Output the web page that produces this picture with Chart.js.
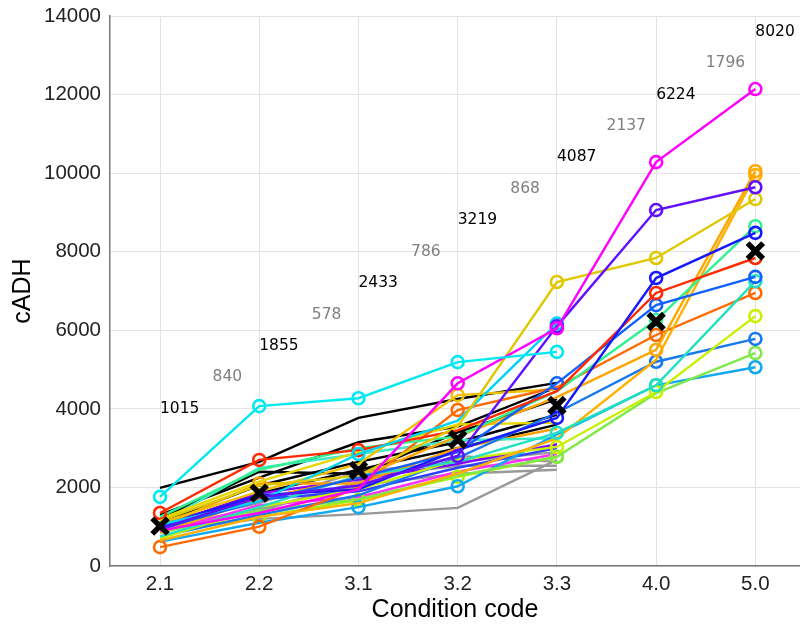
<!DOCTYPE html>
<html>
<head>
<meta charset="utf-8">
<script src="https://cdn.jsdelivr.net/npm/chart.js@4.4.1/dist/chart.umd.min.js"></script>
<style>
html,body{margin:0;padding:0;background:#fff;}
#wrap{width:800px;height:624px;position:relative;}
</style>
</head>
<body>
<div id="wrap"><canvas id="c" width="800" height="624"></canvas></div>
<script>
// ---- data ----
const categories = ['2.1','2.2','3.1','3.2','3.3','4.0','5.0'];
const yTicks = [0,2000,4000,6000,8000,10000,12000,14000];
const meanValues = [1015,1855,2433,3219,4087,6224,8020];
const spreadValues = [840,578,786,868,2137,1796];
const meanLabelY = [4000,5600,7200,8800,10400,12000,13600];
const spreadLabelY = [4800,6400,8000,9600,11200,12800];

const sCyan      = [1760,4070,4270,5190,5450,null,null];
const sMagenta   = [900,1350,1950,4650,6050,10280,12140];
const sPurple    = [950,1750,2050,2800,6100,9060,9640];
const sGold      = [1150,2050,2300,3550,7230,7840,9340];
const sSky       = [1050,1650,2850,3700,6170,null,null];
const sBlue      = [1000,1800,1950,2950,3770,7330,8480];
const sRed       = [1350,2700,2950,3450,4450,6950,7840];
const sRoyal     = [950,1650,2250,2900,4650,6640,7360];
const sSpring    = [1250,2450,3000,3300,4450,6260,8650];
const sTurq      = [750,1500,2300,2650,3390,4600,7250];
const sOrange    = [850,1700,2250,3300,4300,5500,10050];
const sOrange2   = [650,1250,1600,2350,3250,5250,9950];
const sDarkOr    = [480,1000,2000,3970,4550,5880,6950];
const sYGreen    = [700,1500,1950,2700,3030,4430,6360];
const sAzure     = [750,1300,1800,2750,3900,5200,5780];
const sLGreen    = [850,1400,1700,2300,2780,4400,5420];
const sDeepSky   = [620,1100,1500,2030,3350,4600,5060];
const sGold2     = [1100,1900,2600,4350,4500,null,null];
const sLime      = [900,1250,1680,2270,2780,null,null];
const sYellow    = [1200,2150,2900,3600,3650,null,null];
const sTeal      = [1100,2500,2850,3200,3250,null,null];
const sOrange4   = [1000,2100,2100,3000,3500,null,null];
const sViolet    = [1000,1850,2200,2600,3100,null,null];
const sBlue2     = [900,1700,1900,2500,3000,null,null];
const sPink      = [850,1550,1750,2400,2850,null,null];
const sBlack1    = [1990,2650,3770,4250,4660,null,null];
const sBlack2    = [1300,2250,3150,3550,4550,null,null];
const sBlack3    = [1200,2400,2350,3400,4250,null,null];
const sBlack4    = [1100,2050,2650,3150,3850,null,null];
const sBlack5    = [1000,1850,2450,3000,3600,null,null];
const sGray1     = [900,1200,1320,1480,2700,null,null];
const sGray2     = [1000,1450,2050,2350,2450,null,null];
const sGray3     = [1100,1700,2250,2550,2550,null,null];
const sGray4     = [1050,1600,2400,2650,2900,null,null];
const sGray5     = [950,1400,2150,2800,2650,null,null];

// ---- styles (kept apart from data) ----
const seriesList = [
  [sCyan,'#00e8f0',[0,1,2,3,4]],
  [sMagenta,'#ff00ff',[3,4,5,6]],
  [sPurple,'#6010ff',[3,4,5,6]],
  [sGold,'#e0c800',[4,5,6]],
  [sSky,'#00d4f4',[2,4]],
  [sBlue,'#1818ff',[4,5,6]],
  [sRed,'#ff2a00',[0,1,2,5,6]],
  [sRoyal,'#1060ff',[4,5,6]],
  [sSpring,'#30f090',[5,6]],
  [sTurq,'#20e0c0',[4,5,6]],
  [sOrange,'#ffa500',[5,6]],
  [sOrange2,'#ffb000',[6]],
  [sDarkOr,'#ff6a00',[0,1,3,5,6]],
  [sYGreen,'#c8f000',[4,5,6]],
  [sAzure,'#1878f0',[5,6]],
  [sLGreen,'#80e848',[4,6]],
  [sDeepSky,'#10a8f0',[2,3,5,6]],
  [sGold2,'#f0c000',[3]],
  [sLime,'#a8f000',[1,2,3,4]],
  [sYellow,'#e8d800',[]],
  [sTeal,'#40e8c8',[]],
  [sOrange4,'#ffa000',[1]],
  [sViolet,'#8000ff',[]],
  [sBlue2,'#3040ff',[]],
  [sPink,'#ff30ff',[]],
  [sBlack1,'#000000',[]],
  [sBlack2,'#000000',[]],
  [sBlack3,'#000000',[]],
  [sBlack4,'#000000',[]],
  [sBlack5,'#000000',[]],
  [sGray1,'#999999',[]],
  [sGray2,'#999999',[]],
  [sGray3,'#999999',[]],
  [sGray4,'#999999',[]],
  [sGray5,'#999999',[]]
];

const toXY = arr => arr.map((v,i)=>({x:i,y:v}));

const datasets = [{
  label:'mean',
  data: toXY(meanValues),
  showLine:false,
  pointStyle:'crossRot',
  pointRadius:11,
  pointBorderWidth:5.5,
  borderColor:'#000',
  backgroundColor:'#000',
  pointBorderColor:'#000'
}];
seriesList.forEach(([vals,color,marks],k)=>{
  datasets.push({
    label:'s'+k,
    data: toXY(vals),
    borderColor:color,
    backgroundColor:'rgba(0,0,0,0)',
    borderWidth:2.4,
    spanGaps:false,
    pointStyle:'circle',
    pointRadius: ctx => marks.includes(ctx.dataIndex) ? 6 : 0,
    pointBorderWidth:2.6,
    pointBorderColor:color,
    pointBackgroundColor:'rgba(255,255,255,0)',
    tension:0
  });
});

const textPlugin = {
  id:'annot',
  afterDatasetsDraw(chart){
    const {ctx, scales:{x,y}} = chart;
    ctx.save();
    ctx.font = '15.5px "DejaVu Sans"';
    ctx.textBaseline = 'middle';
    ctx.textAlign = 'left';
    ctx.fillStyle = '#000';
    meanValues.forEach((m,i)=>{
      ctx.fillText(String(m), x.getPixelForValue(i), y.getPixelForValue(meanLabelY[i]));
    });
    ctx.fillStyle = '#808080';
    spreadValues.forEach((s,i)=>{
      ctx.fillText(String(s), x.getPixelForValue(i+0.5)+ (s>=1000?0:3), y.getPixelForValue(spreadLabelY[i]));
    });
    ctx.restore();
  }
};

new Chart(document.getElementById('c'), {
  type:'line',
  data:{datasets},
  options:{
    responsive:false,
    animation:false,
    events:[],
    layout:{autoPadding:false, padding:{top:16,right:0,left:0,bottom:0}},
    plugins:{legend:{display:false},tooltip:{enabled:false}},
    scales:{
      x:{
        type:'linear',
        min:-0.504, max:6.45,
        afterBuildTicks: s => { s.ticks = categories.map((c,i)=>({value:i})); },
        afterFit: s => { s.height = 58; s.paddingLeft = 0; s.paddingRight = 0; },
        ticks:{
          callback: v => categories[v],
          font:{family:'"Liberation Sans", Arial', size:20.5},
          color:'#222',
          padding:6,
          maxRotation:0
        },
        grid:{color:'#e3e3e3', drawTicks:false, lineWidth:1},
        border:{color:'#7a7a7a', width:1.5},
        title:{display:true,text:'Condition code',font:{family:'"Liberation Sans", Arial',size:25},color:'#000',padding:{top:0,bottom:-1}}
      },
      y:{
        type:'linear',
        min:0, max:14000,
        afterBuildTicks: s => { s.ticks = yTicks.map(v=>({value:v})); },
        afterFit: s => { s.width = 110; s.paddingTop = 0; s.paddingBottom = 0; },
        ticks:{
          callback: v => String(v),
          font:{family:'"Liberation Sans", Arial', size:20.5},
          color:'#222',
          padding:9
        },
        grid:{color:'#e3e3e3', drawTicks:false, lineWidth:1},
        border:{color:'#7a7a7a', width:1.5},
        title:{display:true,text:'cADH',font:{family:'"Liberation Sans", Arial',size:25},color:'#000',padding:{top:8,bottom:0}}
      }
    }
  },
  plugins:[textPlugin]
});
</script>
</body>
</html>
